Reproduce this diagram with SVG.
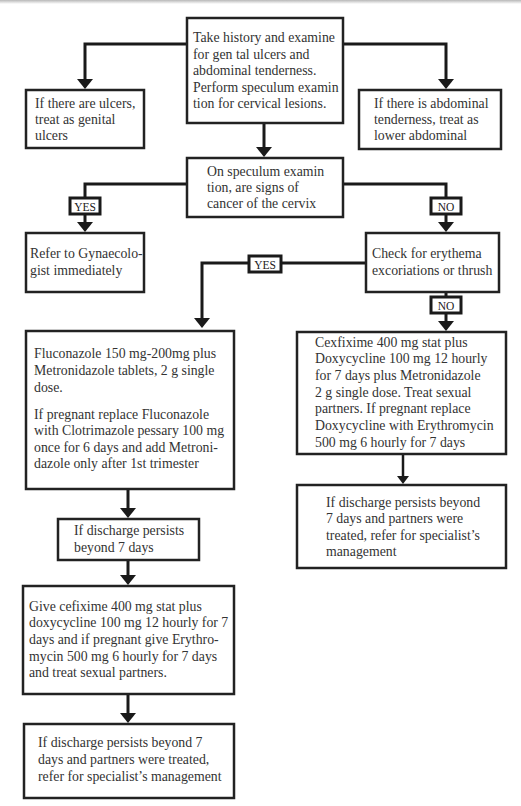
<svg xmlns="http://www.w3.org/2000/svg" width="521" height="806" viewBox="0 0 521 806">
<defs>
<linearGradient id="topshade" x1="0" y1="0" x2="0" y2="1">
<stop offset="0" stop-color="#b8b8b8"/>
<stop offset="1" stop-color="#ffffff"/>
</linearGradient>
<marker id="ah" viewBox="0 -8 10 16" refX="0" refY="0" markerWidth="10" markerHeight="16" markerUnits="userSpaceOnUse" orient="auto">
<path d="M0,-8 L10,0 L0,8 z" fill="#1a1a1a"/>
</marker>
<marker id="ahs" viewBox="0 -6 8 12" refX="0" refY="0" markerWidth="8" markerHeight="12" markerUnits="userSpaceOnUse" orient="auto">
<path d="M0,-6 L8,0 L0,6 z" fill="#1a1a1a"/>
</marker>
</defs>
<style>
.box{fill:#fff;stroke:#222;stroke-width:2.5}
.t{font-family:"Liberation Serif","Times New Roman",serif;font-size:13.8px;fill:#333}
.c{fill:none;stroke:#1a1a1a;stroke-width:3}
.lb{fill:#fff;stroke:#1a1a1a;stroke-width:3}
.lt{font-family:"Liberation Serif","Times New Roman",serif;font-size:11.5px;fill:#222;text-anchor:middle}
</style>
<rect x="0" y="0" width="521" height="806" fill="#fff"/>
<rect x="0" y="0" width="521" height="4" fill="url(#topshade)"/>

<g id="connectors">
<path class="c" d="M187,44 H85 V79" marker-end="url(#ah)"/>
<path class="c" d="M343,44 H446 V79" marker-end="url(#ah)"/>
<path class="c" d="M264,123 V147" marker-end="url(#ah)"/>
<path class="c" d="M187,184 H85 V222" marker-end="url(#ah)"/>
<path class="c" d="M343,184 H446 V222" marker-end="url(#ah)"/>
<path class="c" d="M366,263 H202 V318" marker-end="url(#ah)"/>
<path class="c" d="M446,292 V321" marker-end="url(#ah)"/>
<path class="c" d="M128,489 V508" marker-end="url(#ah)"/>
<path class="c" d="M128,560 V575" marker-end="url(#ah)"/>
<path class="c" d="M128,694 V713" marker-end="url(#ah)"/>
<path class="c" style="stroke-width:2.5" d="M403,454 V476" marker-end="url(#ahs)"/>
<g id="label-yes-1"><rect class="lb" x="70" y="198" width="30" height="16"/><text class="lt" x="85" y="210.5">YES</text></g>
<g id="label-no-1"><rect class="lb" x="431" y="198" width="30" height="16"/><text class="lt" x="446" y="210.5">NO</text></g>
<g id="label-yes-2"><rect class="lb" x="249" y="256" width="32" height="16"/><text class="lt" x="265" y="268.5">YES</text></g>
<g id="label-no-2"><rect class="lb" x="431" y="297" width="30" height="16"/><text class="lt" x="446" y="309.5">NO</text></g>
</g>

<g id="n-history">
<rect class="box" x="187" y="18" width="156" height="105"/>
<text class="t"><tspan x="193" y="42">Take history and examine</tspan><tspan x="193" y="58.5">for gen tal ulcers and</tspan><tspan x="193" y="75">abdominal tenderness.</tspan><tspan x="193" y="91.5">Perform speculum examin</tspan><tspan x="193" y="108">tion for cervical lesions.</tspan></text>
</g>
<g id="n-ulcers">
<rect class="box" x="26" y="90" width="118" height="58"/>
<text class="t"><tspan x="35" y="108">If there are ulcers,</tspan><tspan x="35" y="124">treat as genital</tspan><tspan x="35" y="140">ulcers</tspan></text>
</g>
<g id="n-abdominal">
<rect class="box" x="359" y="90" width="142" height="59"/>
<text class="t"><tspan x="374" y="108">If there is abdominal</tspan><tspan x="374" y="124">tenderness, treat as</tspan><tspan x="374" y="140">lower abdominal</tspan></text>
</g>
<g id="n-speculum">
<rect class="box" x="187" y="158" width="156" height="59"/>
<text class="t"><tspan x="207" y="176">On speculum examin</tspan><tspan x="207" y="192">tion, are signs of</tspan><tspan x="207" y="207.5">cancer of the cervix</tspan></text>
</g>
<g id="n-refer">
<rect class="box" x="26" y="233" width="118" height="59"/>
<text class="t"><tspan x="30" y="258">Refer to Gynaecolo-</tspan><tspan x="30" y="275">gist immediately</tspan></text>
</g>
<g id="n-check">
<rect class="box" x="366" y="233" width="133" height="59"/>
<text class="t"><tspan x="372" y="258">Check for erythema</tspan><tspan x="372" y="275">excoriations or thrush</tspan></text>
</g>
<g id="n-fluconazole">
<rect class="box" x="26" y="331" width="208" height="158"/>
<text class="t"><tspan x="34" y="358">Fluconazole 150 mg-200mg plus</tspan><tspan x="34" y="375">Metronidazole tablets, 2 g single</tspan><tspan x="34" y="392">dose.</tspan><tspan x="34" y="419">If pregnant replace Fluconazole</tspan><tspan x="34" y="435">with Clotrimazole pessary 100 mg</tspan><tspan x="34" y="452">once for 6 days and add Metroni-</tspan><tspan x="34" y="468">dazole only after 1st trimester</tspan></text>
</g>
<g id="n-persists-left">
<rect class="box" x="58" y="519" width="141" height="41"/>
<text class="t"><tspan x="74" y="535">If discharge persists</tspan><tspan x="74" y="552">beyond 7 days</tspan></text>
</g>
<g id="n-cefixime-left">
<rect class="box" x="23" y="586" width="211" height="108"/>
<text class="t"><tspan x="29" y="611">Give cefixime 400 mg stat plus</tspan><tspan x="29" y="627">doxycycline 100 mg 12 hourly for 7</tspan><tspan x="29" y="644">days and if pregnant give Erythro-</tspan><tspan x="29" y="661">mycin 500 mg 6 hourly for 7 days</tspan><tspan x="29" y="677">and treat sexual partners.</tspan></text>
</g>
<g id="n-refer-left">
<rect class="box" x="24" y="724" width="210" height="74"/>
<text class="t"><tspan x="38" y="747">If discharge persists beyond 7</tspan><tspan x="38" y="764">days and partners were treated,</tspan><tspan x="38" y="781">refer for specialist’s management</tspan></text>
</g>
<g id="n-cexfixime-right">
<rect class="box" x="297" y="332" width="209" height="122"/>
<text class="t"><tspan x="315" y="347">Cexfixime 400 mg stat plus</tspan><tspan x="315" y="363">Doxycycline 100 mg 12 hourly</tspan><tspan x="315" y="380">for 7 days plus Metronidazole</tspan><tspan x="315" y="397">2 g single dose. Treat sexual</tspan><tspan x="315" y="413">partners. If pregnant replace</tspan><tspan x="315" y="430">Doxycycline with Erythromycin</tspan><tspan x="315" y="447">500 mg 6 hourly for 7 days</tspan></text>
</g>
<g id="n-refer-right">
<rect class="box" x="297" y="485" width="209" height="83"/>
<text class="t"><tspan x="326" y="507">If discharge persists beyond</tspan><tspan x="326" y="523">7 days and partners were</tspan><tspan x="326" y="540">treated, refer for specialist’s</tspan><tspan x="326" y="556">management</tspan></text>
</g>
</svg>
